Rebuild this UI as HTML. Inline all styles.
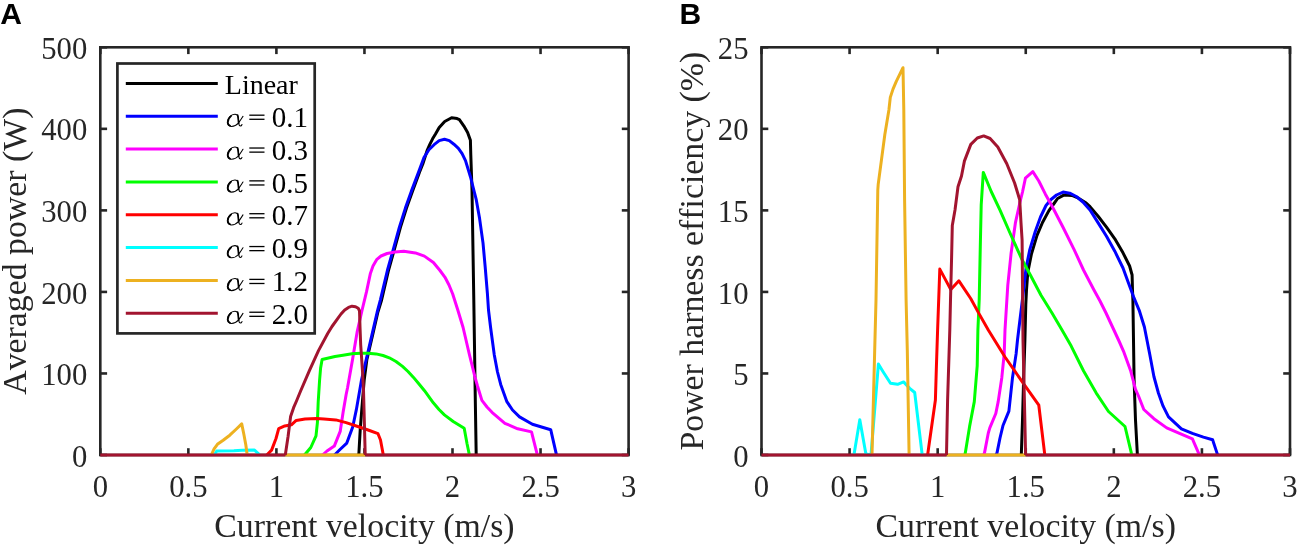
<!DOCTYPE html>
<html><head><meta charset="utf-8"><style>
html,body{margin:0;padding:0;background:#fff;}
svg{display:block;will-change:transform;}
text{font-kerning:none;}
.tk{font-family:"Liberation Serif",serif;font-size:31.8px;fill:#262626;}
.lb{font-family:"Liberation Serif",serif;font-size:33.8px;fill:#262626;}
.lg{font-family:"Liberation Serif",serif;font-size:28px;fill:#000;}
.lgd{font-family:"Liberation Serif",serif;font-size:29px;fill:#000;}
.pl{font-family:"Liberation Sans",sans-serif;font-size:30px;font-weight:bold;fill:#000;}
</style></head><body>
<svg width="1299" height="545" viewBox="0 0 1299 545">

<rect width="1299" height="545" fill="#fff"/>
<rect x="100.3" y="47.3" width="528.30" height="407.70" fill="none" stroke="#262626" stroke-width="2.6"/>
<line x1="100.30" y1="455.0" x2="100.30" y2="448.2" stroke="#262626" stroke-width="2.6"/>
<line x1="100.30" y1="47.3" x2="100.30" y2="54.099999999999994" stroke="#262626" stroke-width="2.6"/>
<line x1="188.35" y1="455.0" x2="188.35" y2="448.2" stroke="#262626" stroke-width="2.6"/>
<line x1="188.35" y1="47.3" x2="188.35" y2="54.099999999999994" stroke="#262626" stroke-width="2.6"/>
<line x1="276.40" y1="455.0" x2="276.40" y2="448.2" stroke="#262626" stroke-width="2.6"/>
<line x1="276.40" y1="47.3" x2="276.40" y2="54.099999999999994" stroke="#262626" stroke-width="2.6"/>
<line x1="364.45" y1="455.0" x2="364.45" y2="448.2" stroke="#262626" stroke-width="2.6"/>
<line x1="364.45" y1="47.3" x2="364.45" y2="54.099999999999994" stroke="#262626" stroke-width="2.6"/>
<line x1="452.50" y1="455.0" x2="452.50" y2="448.2" stroke="#262626" stroke-width="2.6"/>
<line x1="452.50" y1="47.3" x2="452.50" y2="54.099999999999994" stroke="#262626" stroke-width="2.6"/>
<line x1="540.55" y1="455.0" x2="540.55" y2="448.2" stroke="#262626" stroke-width="2.6"/>
<line x1="540.55" y1="47.3" x2="540.55" y2="54.099999999999994" stroke="#262626" stroke-width="2.6"/>
<line x1="628.60" y1="455.0" x2="628.60" y2="448.2" stroke="#262626" stroke-width="2.6"/>
<line x1="628.60" y1="47.3" x2="628.60" y2="54.099999999999994" stroke="#262626" stroke-width="2.6"/>
<line x1="100.3" y1="455.00" x2="107.1" y2="455.00" stroke="#262626" stroke-width="2.6"/>
<line x1="628.6" y1="455.00" x2="621.8000000000001" y2="455.00" stroke="#262626" stroke-width="2.6"/>
<line x1="100.3" y1="373.46" x2="107.1" y2="373.46" stroke="#262626" stroke-width="2.6"/>
<line x1="628.6" y1="373.46" x2="621.8000000000001" y2="373.46" stroke="#262626" stroke-width="2.6"/>
<line x1="100.3" y1="291.92" x2="107.1" y2="291.92" stroke="#262626" stroke-width="2.6"/>
<line x1="628.6" y1="291.92" x2="621.8000000000001" y2="291.92" stroke="#262626" stroke-width="2.6"/>
<line x1="100.3" y1="210.38" x2="107.1" y2="210.38" stroke="#262626" stroke-width="2.6"/>
<line x1="628.6" y1="210.38" x2="621.8000000000001" y2="210.38" stroke="#262626" stroke-width="2.6"/>
<line x1="100.3" y1="128.84" x2="107.1" y2="128.84" stroke="#262626" stroke-width="2.6"/>
<line x1="628.6" y1="128.84" x2="621.8000000000001" y2="128.84" stroke="#262626" stroke-width="2.6"/>
<line x1="100.3" y1="47.30" x2="107.1" y2="47.30" stroke="#262626" stroke-width="2.6"/>
<line x1="628.6" y1="47.30" x2="621.8000000000001" y2="47.30" stroke="#262626" stroke-width="2.6"/>
<rect x="761.5" y="47.3" width="528.50" height="407.70" fill="none" stroke="#262626" stroke-width="2.6"/>
<line x1="761.50" y1="455.0" x2="761.50" y2="448.2" stroke="#262626" stroke-width="2.6"/>
<line x1="761.50" y1="47.3" x2="761.50" y2="54.099999999999994" stroke="#262626" stroke-width="2.6"/>
<line x1="849.58" y1="455.0" x2="849.58" y2="448.2" stroke="#262626" stroke-width="2.6"/>
<line x1="849.58" y1="47.3" x2="849.58" y2="54.099999999999994" stroke="#262626" stroke-width="2.6"/>
<line x1="937.67" y1="455.0" x2="937.67" y2="448.2" stroke="#262626" stroke-width="2.6"/>
<line x1="937.67" y1="47.3" x2="937.67" y2="54.099999999999994" stroke="#262626" stroke-width="2.6"/>
<line x1="1025.75" y1="455.0" x2="1025.75" y2="448.2" stroke="#262626" stroke-width="2.6"/>
<line x1="1025.75" y1="47.3" x2="1025.75" y2="54.099999999999994" stroke="#262626" stroke-width="2.6"/>
<line x1="1113.83" y1="455.0" x2="1113.83" y2="448.2" stroke="#262626" stroke-width="2.6"/>
<line x1="1113.83" y1="47.3" x2="1113.83" y2="54.099999999999994" stroke="#262626" stroke-width="2.6"/>
<line x1="1201.92" y1="455.0" x2="1201.92" y2="448.2" stroke="#262626" stroke-width="2.6"/>
<line x1="1201.92" y1="47.3" x2="1201.92" y2="54.099999999999994" stroke="#262626" stroke-width="2.6"/>
<line x1="1290.00" y1="455.0" x2="1290.00" y2="448.2" stroke="#262626" stroke-width="2.6"/>
<line x1="1290.00" y1="47.3" x2="1290.00" y2="54.099999999999994" stroke="#262626" stroke-width="2.6"/>
<line x1="761.5" y1="455.00" x2="768.3" y2="455.00" stroke="#262626" stroke-width="2.6"/>
<line x1="1290.0" y1="455.00" x2="1283.2" y2="455.00" stroke="#262626" stroke-width="2.6"/>
<line x1="761.5" y1="373.46" x2="768.3" y2="373.46" stroke="#262626" stroke-width="2.6"/>
<line x1="1290.0" y1="373.46" x2="1283.2" y2="373.46" stroke="#262626" stroke-width="2.6"/>
<line x1="761.5" y1="291.92" x2="768.3" y2="291.92" stroke="#262626" stroke-width="2.6"/>
<line x1="1290.0" y1="291.92" x2="1283.2" y2="291.92" stroke="#262626" stroke-width="2.6"/>
<line x1="761.5" y1="210.38" x2="768.3" y2="210.38" stroke="#262626" stroke-width="2.6"/>
<line x1="1290.0" y1="210.38" x2="1283.2" y2="210.38" stroke="#262626" stroke-width="2.6"/>
<line x1="761.5" y1="128.84" x2="768.3" y2="128.84" stroke="#262626" stroke-width="2.6"/>
<line x1="1290.0" y1="128.84" x2="1283.2" y2="128.84" stroke="#262626" stroke-width="2.6"/>
<line x1="761.5" y1="47.30" x2="768.3" y2="47.30" stroke="#262626" stroke-width="2.6"/>
<line x1="1290.0" y1="47.30" x2="1283.2" y2="47.30" stroke="#262626" stroke-width="2.6"/>
<polyline points="358.8,455.0 360.2,430.0 361.8,409.4 364.2,380.0 366.8,360.0 372.4,336.0 377.9,312.0 381.6,300.0 388.6,270.0 394.6,248.6 400.5,227.1 406.5,208.1 412.4,191.4 419.4,172.4 422.8,164.0 427.3,150.0 429.7,144.7 432.6,138.8 435.5,134.0 439.2,127.5 444.7,121.5 451.6,117.8 457.1,118.6 459.4,119.7 463.9,126.1 467.6,132.5 470.4,140.3 470.8,155.0 472.0,190.0 473.8,300.0 475.3,400.0 476.2,455.0" fill="none" stroke="#000000" stroke-width="3.0" stroke-linejoin="round" stroke-linecap="butt"/>
<polyline points="334.5,455.0 340.0,449.5 346.8,443.1 352.7,427.0 356.4,409.4 360.0,388.8 361.5,380.0 366.2,359.7 371.7,335.9 377.2,312.0 380.4,299.8 387.5,270.0 393.5,248.6 399.4,227.1 405.4,208.1 411.3,191.4 418.5,172.4 423.8,157.9 428.9,149.8 434.1,144.7 439.2,140.6 444.5,139.2 449.3,140.6 453.9,144.2 458.4,148.3 462.1,153.6 465.5,160.6 470.5,177.0 476.3,199.9 479.6,218.6 483.0,242.9 485.2,267.1 487.4,293.5 488.5,310.0 490.6,327.5 494.3,355.0 497.5,372.0 500.7,384.4 506.7,401.3 512.5,410.0 519.5,416.9 532.4,424.2 550.7,429.7 556.2,453.6 556.5,455.0" fill="none" stroke="#0000ff" stroke-width="3.0" stroke-linejoin="round" stroke-linecap="butt"/>
<polyline points="322.5,455.0 327.0,451.0 334.3,446.1 340.2,431.4 343.1,412.3 346.1,394.7 347.5,388.0 352.5,359.7 357.1,332.2 362.1,310.0 366.6,291.4 370.4,273.4 373.0,266.0 376.9,259.3 381.0,256.0 387.1,253.5 395.0,252.0 403.8,251.3 415.4,252.9 424.4,256.1 433.4,262.5 440.0,270.5 445.0,277.3 449.0,285.0 452.7,294.0 457.8,310.0 463.1,327.5 469.5,355.0 475.0,377.1 477.5,386.0 481.9,400.4 487.0,407.0 492.0,412.3 504.9,423.3 517.7,428.8 531.5,431.9 537.0,453.6 537.3,455.0" fill="none" stroke="#ff00ff" stroke-width="3.0" stroke-linejoin="round" stroke-linecap="butt"/>
<polyline points="304.5,455.0 310.8,447.5 316.0,435.8 317.4,422.6 318.2,402.0 319.6,380.0 320.6,368.0 322.1,359.5 335.0,356.5 343.0,355.2 352.0,353.8 360.7,353.2 368.0,353.2 376.1,353.9 383.0,355.5 389.3,357.8 396.0,361.5 402.5,366.4 408.0,371.5 413.5,377.4 419.0,384.0 424.5,390.7 433.3,402.8 439.0,409.5 444.4,414.9 453.2,421.5 464.2,428.3 467.0,443.5 469.4,455.0" fill="none" stroke="#00ff00" stroke-width="3.0" stroke-linejoin="round" stroke-linecap="butt"/>
<polyline points="266.8,455.0 271.6,450.1 276.0,438.5 278.7,428.6 284.8,425.9 291.4,424.8 296.2,420.4 305.0,418.9 316.7,418.5 324.0,418.9 335.8,419.9 346.1,422.6 359.3,427.0 368.1,430.0 378.0,433.7 380.5,440.0 383.3,455.0" fill="none" stroke="#ff0000" stroke-width="3.0" stroke-linejoin="round" stroke-linecap="butt"/>
<polyline points="214.5,455.0 216.6,451.1 233.9,450.8 242.1,450.3 254.5,450.1 258.6,453.8 259.5,455.0" fill="none" stroke="#00ffff" stroke-width="3.0" stroke-linejoin="round" stroke-linecap="butt"/>
<polyline points="285.3,455.0 365.2,455.0" fill="none" stroke="#edb120" stroke-width="3.0"/>
<polyline points="211.3,455.0 214.1,448.8 217.4,444.3 223.2,440.2 229.8,435.2 236.4,429.0 241.7,423.9 243.8,434.0 245.8,444.7 247.2,455.0" fill="none" stroke="#edb120" stroke-width="3.0" stroke-linejoin="round" stroke-linecap="butt"/>
<polyline points="100.3,455.0 285.3,455.0" fill="none" stroke="#a2142f" stroke-width="3.0"/>
<polyline points="365.2,455.0 628.6,455.0" fill="none" stroke="#a2142f" stroke-width="3.0"/>
<polyline points="285.3,455.0 288.1,436.3 290.6,416.5 293.6,407.7 296.5,401.0 300.4,391.5 309.4,370.7 318.5,350.6 327.7,333.5 332.0,326.5 337.3,319.2 341.0,314.0 344.7,309.9 348.5,307.4 352.0,306.2 355.5,306.7 358.2,308.3 359.5,310.8 360.0,326.7 360.7,345.0 362.6,372.6 363.5,390.0 364.4,424.0 365.2,455.0" fill="none" stroke="#a2142f" stroke-width="3.0" stroke-linejoin="round" stroke-linecap="butt"/>
<polyline points="1021.3,455.0 1022.5,420.0 1023.6,380.0 1024.9,340.0 1025.8,304.2 1026.5,290.0 1027.8,272.1 1031.5,253.7 1037.0,235.4 1042.5,222.5 1048.9,210.6 1054.4,203.0 1057.6,198.5 1064.2,194.9 1071.9,195.4 1078.5,198.2 1086.2,203.1 1090.0,206.6 1098.3,216.5 1106.5,227.2 1114.8,238.8 1123.0,252.8 1129.6,266.0 1132.1,275.0 1132.5,290.2 1132.9,300.0 1134.1,379.9 1135.5,420.0 1137.4,455.0" fill="none" stroke="#000000" stroke-width="3.0" stroke-linejoin="round" stroke-linecap="butt"/>
<polyline points="996.0,455.0 997.0,452.9 1000.0,438.0 1003.0,425.5 1008.9,411.1 1012.5,377.7 1016.1,353.9 1017.5,340.0 1023.0,295.0 1026.0,268.4 1029.7,250.0 1035.2,231.7 1040.5,217.0 1046.0,205.5 1051.0,199.5 1056.5,195.0 1063.1,192.1 1069.7,193.2 1076.3,196.5 1082.9,202.0 1090.0,209.9 1098.3,223.1 1106.5,236.3 1114.8,251.2 1123.0,268.0 1128.1,282.1 1134.1,298.2 1139.2,310.3 1144.4,327.0 1149.6,353.5 1153.9,376.5 1158.4,393.0 1163.0,405.9 1168.5,416.9 1181.4,428.8 1192.4,433.4 1203.4,437.1 1212.6,439.8 1217.2,453.6 1217.6,455.0" fill="none" stroke="#0000ff" stroke-width="3.0" stroke-linejoin="round" stroke-linecap="butt"/>
<polyline points="983.5,455.0 984.5,452.9 988.3,433.0 989.8,427.9 995.8,413.5 998.2,401.6 1001.8,377.7 1004.2,353.9 1005.0,330.0 1007.8,285.1 1011.1,253.2 1015.5,222.3 1019.9,202.5 1022.5,192.0 1025.4,178.2 1032.8,171.6 1038.8,181.0 1045.4,194.2 1052.5,207.0 1063.0,227.3 1074.0,249.3 1083.5,270.0 1093.7,289.5 1100.0,301.0 1106.0,313.0 1113.2,328.5 1119.0,341.0 1124.0,352.4 1130.8,371.3 1135.5,389.4 1138.5,396.0 1143.8,409.5 1153.9,418.7 1166.7,427.9 1179.5,433.4 1192.4,438.9 1198.8,453.6 1199.2,455.0" fill="none" stroke="#ff00ff" stroke-width="3.0" stroke-linejoin="round" stroke-linecap="butt"/>
<polyline points="964.8,455.0 965.3,452.9 969.6,426.4 974.3,401.6 977.2,365.8 977.9,330.0 979.2,300.0 980.3,246.2 981.2,205.0 983.3,172.4 991.2,191.5 1000.0,210.2 1011.1,235.5 1022.1,259.8 1030.6,275.5 1041.0,295.3 1052.0,313.0 1062.0,330.0 1071.2,346.1 1083.6,371.0 1096.1,392.8 1108.5,411.5 1125.0,426.5 1131.2,452.3 1131.5,455.0" fill="none" stroke="#00ff00" stroke-width="3.0" stroke-linejoin="round" stroke-linecap="butt"/>
<polyline points="927.6,455.0 928.6,448.0 935.4,400.0 936.3,370.0 937.6,330.0 939.8,269.1 950.8,289.6 958.9,280.8 970.7,298.5 978.7,313.1 988.3,330.0 1005.0,357.0 1024.4,384.9 1038.8,405.2 1044.7,454.1 1045.0,455.0" fill="none" stroke="#ff0000" stroke-width="3.0" stroke-linejoin="round" stroke-linecap="butt"/>
<polyline points="853.8,455.0 854.1,454.0 859.8,419.7 865.9,454.0 871.0,455.0 878.4,364.1 883.4,372.2 890.5,383.3 897.6,384.3 903.6,381.9 909.7,388.4 914.7,392.5 922.0,453.3 922.3,455.0" fill="none" stroke="#00ffff" stroke-width="3.0" stroke-linejoin="round" stroke-linecap="butt"/>
<polyline points="946.5,455.0 1025.6,455.0" fill="none" stroke="#edb120" stroke-width="3.0"/>
<polyline points="872.0,455.0 874.7,350.0 876.0,300.0 877.8,190.0 878.2,184.4 881.5,159.6 884.8,134.8 888.9,110.0 890.3,97.4 893.0,89.1 896.3,81.4 903.0,67.7 903.8,110.0 904.6,200.0 906.1,300.0 907.3,350.0 909.1,455.0" fill="none" stroke="#edb120" stroke-width="3.0" stroke-linejoin="round" stroke-linecap="butt"/>
<polyline points="761.5,455.0 946.5,455.0" fill="none" stroke="#a2142f" stroke-width="3.0"/>
<polyline points="1025.6,455.0 1290.0,455.0" fill="none" stroke="#a2142f" stroke-width="3.0"/>
<polyline points="946.5,455.0 947.6,400.0 949.8,330.0 950.5,300.0 951.6,257.3 952.3,225.4 955.0,210.0 958.0,186.8 961.5,176.0 964.4,161.1 970.8,144.4 977.3,138.0 983.7,135.9 990.1,138.5 997.8,147.0 1006.8,163.7 1014.6,183.0 1019.7,199.7 1021.0,222.8 1022.1,240.0 1023.0,340.0 1024.4,400.0 1025.6,455.0" fill="none" stroke="#a2142f" stroke-width="3.0" stroke-linejoin="round" stroke-linecap="butt"/>
<rect x="117.4" y="63.5" width="197.3" height="269.9" fill="#fff" stroke="#262626" stroke-width="2.7"/>
<line x1="125.8" y1="83.40" x2="217.8" y2="83.40" stroke="#000000" stroke-width="3.0"/>
<text x="224.8" y="94.00" class="lg">Linear</text>
<line x1="125.8" y1="116.24" x2="217.8" y2="116.24" stroke="#0000ff" stroke-width="3.0"/>
<g transform="translate(226.6,126.84)" fill="none" stroke="#000" stroke-linecap="round"><path d="M16.4,-10.5 C14.9,-8.2 13.5,-5.9 11.8,-3.7 C9.8,-1.4 7.3,-0.4 4.9,-0.4 C2.1,-0.4 0.7,-2.3 0.7,-4.6 C0.7,-8.6 4.4,-12.6 8.3,-12.6 C10.5,-12.6 11.4,-11 11.7,-9.2 L12.2,-3.6 C12.4,-1.6 12.9,-0.8 13.8,-0.8 C14.5,-0.8 15.1,-1.4 15.4,-2.3" stroke-width="1.05"/><path d="M4.6,-10.9 C2.4,-9 1.3,-6.6 1.3,-4.6 C1.3,-2.9 2.2,-1.5 3.6,-1.0" stroke-width="1.6"/><path d="M11.0,-11.8 C11.5,-10.2 11.7,-8.2 12.0,-3.8" stroke-width="1.7"/></g>
<rect x="249.3" y="114.54" width="15.2" height="1.3" fill="#000"/>
<rect x="249.3" y="118.64" width="15.2" height="1.3" fill="#000"/>
<text x="271.7" y="126.84" class="lgd">0.1</text>
<line x1="125.8" y1="149.08" x2="217.8" y2="149.08" stroke="#ff00ff" stroke-width="3.0"/>
<g transform="translate(226.6,159.68)" fill="none" stroke="#000" stroke-linecap="round"><path d="M16.4,-10.5 C14.9,-8.2 13.5,-5.9 11.8,-3.7 C9.8,-1.4 7.3,-0.4 4.9,-0.4 C2.1,-0.4 0.7,-2.3 0.7,-4.6 C0.7,-8.6 4.4,-12.6 8.3,-12.6 C10.5,-12.6 11.4,-11 11.7,-9.2 L12.2,-3.6 C12.4,-1.6 12.9,-0.8 13.8,-0.8 C14.5,-0.8 15.1,-1.4 15.4,-2.3" stroke-width="1.05"/><path d="M4.6,-10.9 C2.4,-9 1.3,-6.6 1.3,-4.6 C1.3,-2.9 2.2,-1.5 3.6,-1.0" stroke-width="1.6"/><path d="M11.0,-11.8 C11.5,-10.2 11.7,-8.2 12.0,-3.8" stroke-width="1.7"/></g>
<rect x="249.3" y="147.38" width="15.2" height="1.3" fill="#000"/>
<rect x="249.3" y="151.48" width="15.2" height="1.3" fill="#000"/>
<text x="271.7" y="159.68" class="lgd">0.3</text>
<line x1="125.8" y1="181.92" x2="217.8" y2="181.92" stroke="#00ff00" stroke-width="3.0"/>
<g transform="translate(226.6,192.52)" fill="none" stroke="#000" stroke-linecap="round"><path d="M16.4,-10.5 C14.9,-8.2 13.5,-5.9 11.8,-3.7 C9.8,-1.4 7.3,-0.4 4.9,-0.4 C2.1,-0.4 0.7,-2.3 0.7,-4.6 C0.7,-8.6 4.4,-12.6 8.3,-12.6 C10.5,-12.6 11.4,-11 11.7,-9.2 L12.2,-3.6 C12.4,-1.6 12.9,-0.8 13.8,-0.8 C14.5,-0.8 15.1,-1.4 15.4,-2.3" stroke-width="1.05"/><path d="M4.6,-10.9 C2.4,-9 1.3,-6.6 1.3,-4.6 C1.3,-2.9 2.2,-1.5 3.6,-1.0" stroke-width="1.6"/><path d="M11.0,-11.8 C11.5,-10.2 11.7,-8.2 12.0,-3.8" stroke-width="1.7"/></g>
<rect x="249.3" y="180.22" width="15.2" height="1.3" fill="#000"/>
<rect x="249.3" y="184.32" width="15.2" height="1.3" fill="#000"/>
<text x="271.7" y="192.52" class="lgd">0.5</text>
<line x1="125.8" y1="214.76" x2="217.8" y2="214.76" stroke="#ff0000" stroke-width="3.0"/>
<g transform="translate(226.6,225.36)" fill="none" stroke="#000" stroke-linecap="round"><path d="M16.4,-10.5 C14.9,-8.2 13.5,-5.9 11.8,-3.7 C9.8,-1.4 7.3,-0.4 4.9,-0.4 C2.1,-0.4 0.7,-2.3 0.7,-4.6 C0.7,-8.6 4.4,-12.6 8.3,-12.6 C10.5,-12.6 11.4,-11 11.7,-9.2 L12.2,-3.6 C12.4,-1.6 12.9,-0.8 13.8,-0.8 C14.5,-0.8 15.1,-1.4 15.4,-2.3" stroke-width="1.05"/><path d="M4.6,-10.9 C2.4,-9 1.3,-6.6 1.3,-4.6 C1.3,-2.9 2.2,-1.5 3.6,-1.0" stroke-width="1.6"/><path d="M11.0,-11.8 C11.5,-10.2 11.7,-8.2 12.0,-3.8" stroke-width="1.7"/></g>
<rect x="249.3" y="213.06" width="15.2" height="1.3" fill="#000"/>
<rect x="249.3" y="217.16" width="15.2" height="1.3" fill="#000"/>
<text x="271.7" y="225.36" class="lgd">0.7</text>
<line x1="125.8" y1="247.60" x2="217.8" y2="247.60" stroke="#00ffff" stroke-width="3.0"/>
<g transform="translate(226.6,258.20)" fill="none" stroke="#000" stroke-linecap="round"><path d="M16.4,-10.5 C14.9,-8.2 13.5,-5.9 11.8,-3.7 C9.8,-1.4 7.3,-0.4 4.9,-0.4 C2.1,-0.4 0.7,-2.3 0.7,-4.6 C0.7,-8.6 4.4,-12.6 8.3,-12.6 C10.5,-12.6 11.4,-11 11.7,-9.2 L12.2,-3.6 C12.4,-1.6 12.9,-0.8 13.8,-0.8 C14.5,-0.8 15.1,-1.4 15.4,-2.3" stroke-width="1.05"/><path d="M4.6,-10.9 C2.4,-9 1.3,-6.6 1.3,-4.6 C1.3,-2.9 2.2,-1.5 3.6,-1.0" stroke-width="1.6"/><path d="M11.0,-11.8 C11.5,-10.2 11.7,-8.2 12.0,-3.8" stroke-width="1.7"/></g>
<rect x="249.3" y="245.90" width="15.2" height="1.3" fill="#000"/>
<rect x="249.3" y="250.00" width="15.2" height="1.3" fill="#000"/>
<text x="271.7" y="258.20" class="lgd">0.9</text>
<line x1="125.8" y1="280.44" x2="217.8" y2="280.44" stroke="#edb120" stroke-width="3.0"/>
<g transform="translate(226.6,291.04)" fill="none" stroke="#000" stroke-linecap="round"><path d="M16.4,-10.5 C14.9,-8.2 13.5,-5.9 11.8,-3.7 C9.8,-1.4 7.3,-0.4 4.9,-0.4 C2.1,-0.4 0.7,-2.3 0.7,-4.6 C0.7,-8.6 4.4,-12.6 8.3,-12.6 C10.5,-12.6 11.4,-11 11.7,-9.2 L12.2,-3.6 C12.4,-1.6 12.9,-0.8 13.8,-0.8 C14.5,-0.8 15.1,-1.4 15.4,-2.3" stroke-width="1.05"/><path d="M4.6,-10.9 C2.4,-9 1.3,-6.6 1.3,-4.6 C1.3,-2.9 2.2,-1.5 3.6,-1.0" stroke-width="1.6"/><path d="M11.0,-11.8 C11.5,-10.2 11.7,-8.2 12.0,-3.8" stroke-width="1.7"/></g>
<rect x="249.3" y="278.74" width="15.2" height="1.3" fill="#000"/>
<rect x="249.3" y="282.84" width="15.2" height="1.3" fill="#000"/>
<text x="271.7" y="291.04" class="lgd">1.2</text>
<line x1="125.8" y1="313.28" x2="217.8" y2="313.28" stroke="#a2142f" stroke-width="3.0"/>
<g transform="translate(226.6,323.88)" fill="none" stroke="#000" stroke-linecap="round"><path d="M16.4,-10.5 C14.9,-8.2 13.5,-5.9 11.8,-3.7 C9.8,-1.4 7.3,-0.4 4.9,-0.4 C2.1,-0.4 0.7,-2.3 0.7,-4.6 C0.7,-8.6 4.4,-12.6 8.3,-12.6 C10.5,-12.6 11.4,-11 11.7,-9.2 L12.2,-3.6 C12.4,-1.6 12.9,-0.8 13.8,-0.8 C14.5,-0.8 15.1,-1.4 15.4,-2.3" stroke-width="1.05"/><path d="M4.6,-10.9 C2.4,-9 1.3,-6.6 1.3,-4.6 C1.3,-2.9 2.2,-1.5 3.6,-1.0" stroke-width="1.6"/><path d="M11.0,-11.8 C11.5,-10.2 11.7,-8.2 12.0,-3.8" stroke-width="1.7"/></g>
<rect x="249.3" y="311.58" width="15.2" height="1.3" fill="#000"/>
<rect x="249.3" y="315.68" width="15.2" height="1.3" fill="#000"/>
<text x="271.7" y="323.88" class="lgd">2.0</text>
<text transform="translate(100.30,497.3) scale(0.965,1)" text-anchor="middle" class="tk">0</text>
<text transform="translate(188.35,497.3) scale(0.965,1)" text-anchor="middle" class="tk">0.5</text>
<text transform="translate(276.40,497.3) scale(0.965,1)" text-anchor="middle" class="tk">1</text>
<text transform="translate(364.45,497.3) scale(0.965,1)" text-anchor="middle" class="tk">1.5</text>
<text transform="translate(452.50,497.3) scale(0.965,1)" text-anchor="middle" class="tk">2</text>
<text transform="translate(540.55,497.3) scale(0.965,1)" text-anchor="middle" class="tk">2.5</text>
<text transform="translate(628.60,497.3) scale(0.965,1)" text-anchor="middle" class="tk">3</text>
<text transform="translate(87.30,466.60) scale(0.965,1)" text-anchor="end" class="tk">0</text>
<text transform="translate(87.30,385.06) scale(0.965,1)" text-anchor="end" class="tk">100</text>
<text transform="translate(87.30,303.52) scale(0.965,1)" text-anchor="end" class="tk">200</text>
<text transform="translate(87.30,221.98) scale(0.965,1)" text-anchor="end" class="tk">300</text>
<text transform="translate(87.30,140.44) scale(0.965,1)" text-anchor="end" class="tk">400</text>
<text transform="translate(87.30,58.90) scale(0.965,1)" text-anchor="end" class="tk">500</text>
<text x="364.45" y="536.6" text-anchor="middle" class="lb">Current velocity (m/s)</text>
<text transform="translate(25.7,251.15) rotate(-90)" x="0" y="0" text-anchor="middle" class="lb">Averaged power (W)</text>
<text transform="translate(761.50,497.3) scale(0.965,1)" text-anchor="middle" class="tk">0</text>
<text transform="translate(849.58,497.3) scale(0.965,1)" text-anchor="middle" class="tk">0.5</text>
<text transform="translate(937.67,497.3) scale(0.965,1)" text-anchor="middle" class="tk">1</text>
<text transform="translate(1025.75,497.3) scale(0.965,1)" text-anchor="middle" class="tk">1.5</text>
<text transform="translate(1113.83,497.3) scale(0.965,1)" text-anchor="middle" class="tk">2</text>
<text transform="translate(1201.92,497.3) scale(0.965,1)" text-anchor="middle" class="tk">2.5</text>
<text transform="translate(1290.00,497.3) scale(0.965,1)" text-anchor="middle" class="tk">3</text>
<text transform="translate(748.50,466.60) scale(0.965,1)" text-anchor="end" class="tk">0</text>
<text transform="translate(748.50,385.06) scale(0.965,1)" text-anchor="end" class="tk">5</text>
<text transform="translate(748.50,303.52) scale(0.965,1)" text-anchor="end" class="tk">10</text>
<text transform="translate(748.50,221.98) scale(0.965,1)" text-anchor="end" class="tk">15</text>
<text transform="translate(748.50,140.44) scale(0.965,1)" text-anchor="end" class="tk">20</text>
<text transform="translate(748.50,58.90) scale(0.965,1)" text-anchor="end" class="tk">25</text>
<text x="1025.75" y="536.6" text-anchor="middle" class="lb">Current velocity (m/s)</text>
<text transform="translate(702.6,251.15) rotate(-90)" x="0" y="0" text-anchor="middle" class="lb">Power harness efficiency (%)</text>
<text x="0.2" y="23.9" class="pl">A</text>
<text x="679.4" y="23.9" class="pl">B</text>
</svg>
</body></html>
